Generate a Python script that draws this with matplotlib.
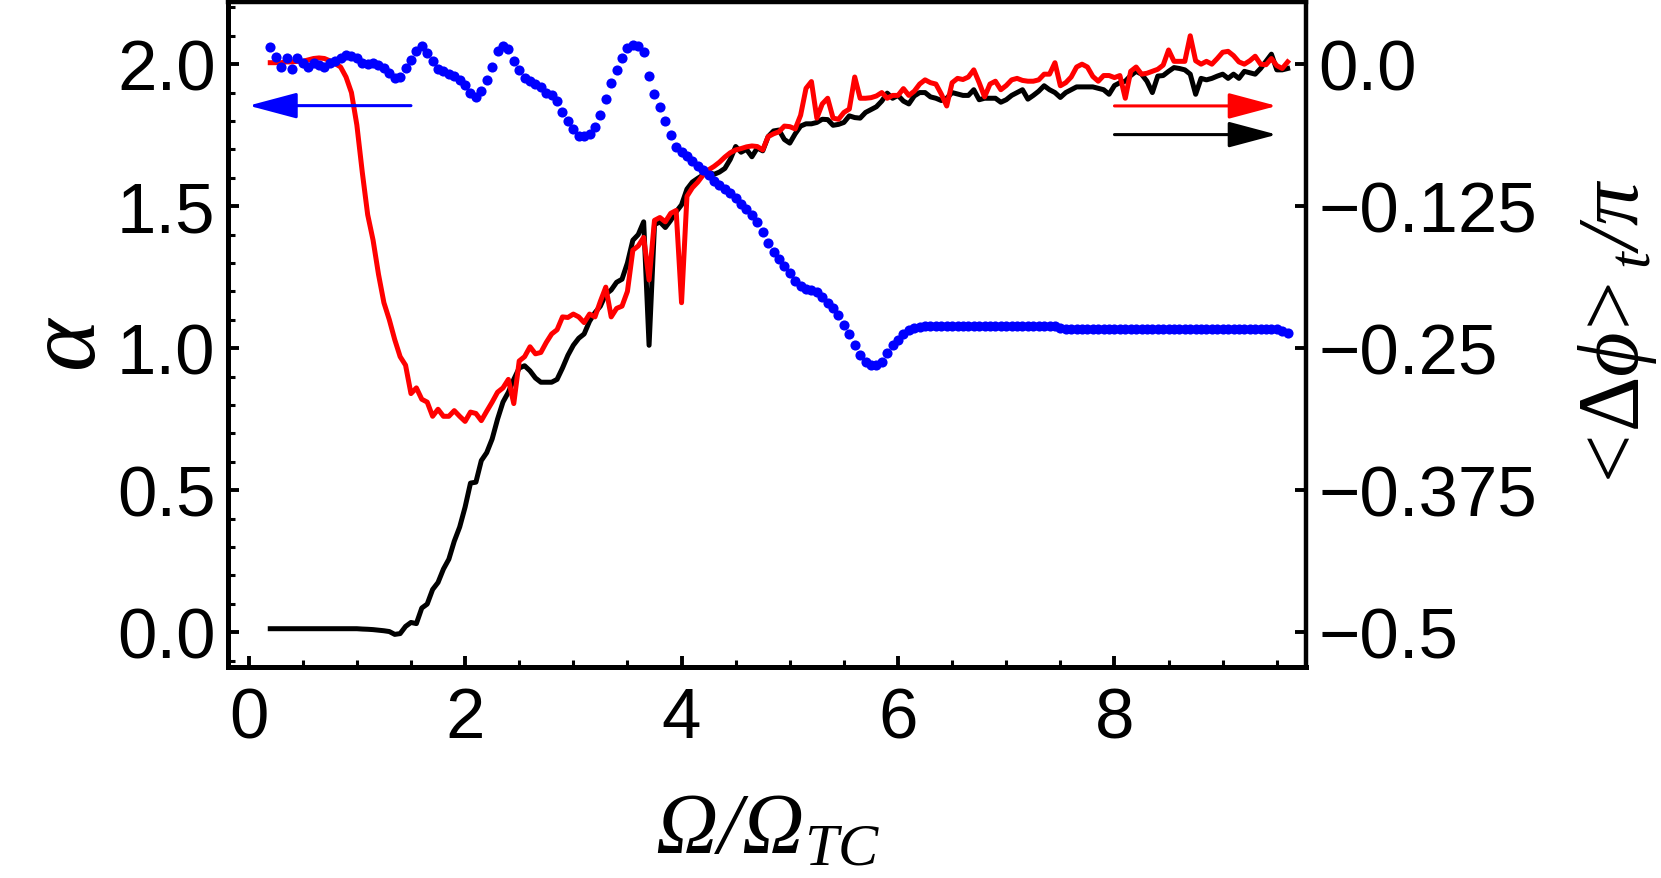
import numpy as np
import matplotlib
matplotlib.use('Agg')
import matplotlib.pyplot as plt
from matplotlib.ticker import MultipleLocator, FormatStrFormatter

plt.rcParams['font.family'] = 'Liberation Sans'
# serif italic maths (Greek capitals go to "rm", so rm is italic too);
# \mathsf is used for the few upright glyphs
plt.rcParams['mathtext.fontset'] = 'custom'
plt.rcParams['mathtext.rm'] = 'Liberation Serif:italic'
plt.rcParams['mathtext.it'] = 'Liberation Serif:italic'
plt.rcParams['mathtext.sf'] = 'Liberation Serif'

# -------------------- data --------------------
# samples every 0.05 in Omega/Omega_TC, starting at 0.2
omega_start = 0.2
omega_step = 0.05

# alpha (left axis, blue dots)
alpha_blue = [
    2.062, 2.025, 1.990, 2.020, 1.982, 2.020, 2.005, 1.990, 2.003, 1.998,
    1.990, 2.003, 2.012, 2.020, 2.034, 2.030, 2.020, 2.003, 2.000, 2.003,
    1.997, 1.988, 1.970, 1.950, 1.955, 1.985, 2.015, 2.048, 2.065, 2.040,
    2.010, 1.983, 1.975, 1.967, 1.960, 1.945, 1.925, 1.898, 1.885, 1.905,
    1.945, 1.990, 2.045, 2.065, 2.055, 2.010, 1.980, 1.950, 1.940, 1.930,
    1.918, 1.900, 1.893, 1.870, 1.830, 1.800, 1.772, 1.748, 1.748, 1.755,
    1.778, 1.820, 1.878, 1.935, 1.980, 2.020, 2.058, 2.066, 2.063, 2.042,
    1.960, 1.895, 1.850, 1.800, 1.750, 1.710, 1.690, 1.675, 1.660, 1.643,
    1.627, 1.608, 1.590, 1.575, 1.562, 1.545, 1.530, 1.508, 1.490, 1.470,
    1.445, 1.410, 1.370, 1.340, 1.315, 1.288, 1.265, 1.238, 1.220, 1.210,
    1.205, 1.196, 1.180, 1.160, 1.140, 1.118, 1.080, 1.050, 1.010, 0.975,
    0.950, 0.940, 0.942, 0.952, 0.982, 1.010, 1.030, 1.050, 1.065, 1.072,
    1.076, 1.078, 1.077, 1.077, 1.077, 1.077, 1.077, 1.077, 1.077, 1.077,
    1.077, 1.077, 1.077, 1.077, 1.077, 1.077, 1.077, 1.077, 1.077, 1.077,
    1.077, 1.077, 1.077, 1.077, 1.077, 1.077, 1.072, 1.066, 1.066, 1.066,
    1.066, 1.066, 1.066, 1.066, 1.066, 1.066, 1.066, 1.066, 1.066, 1.066,
    1.066, 1.066, 1.066, 1.066, 1.066, 1.066, 1.066, 1.066, 1.066, 1.066,
    1.066, 1.066, 1.066, 1.066, 1.066, 1.066, 1.066, 1.066, 1.066, 1.066,
    1.066, 1.066, 1.066, 1.066, 1.066, 1.066, 1.066, 1.062, 1.055,
]

# <dphi>_t / pi (right axis, red line)
phase_red = [
    0.0013, 0.0013, 0.0013, 0.0020, 0.0020, 0.0025, 0.0025, 0.0038, 0.0050, 0.0055,
    0.0050, 0.0030, 0.0005, -0.0025, -0.0113, -0.0250, -0.0535, -0.0950, -0.1325, -0.1550,
    -0.1850, -0.2100, -0.2250, -0.2425, -0.2575, -0.2650, -0.2900, -0.2850, -0.2950, -0.2975,
    -0.3100, -0.3038, -0.3100, -0.3100, -0.3050, -0.3100, -0.3145, -0.3063, -0.3075, -0.3138,
    -0.3055, -0.2975, -0.2888, -0.2850, -0.2775, -0.2988, -0.2613, -0.2575, -0.2488, -0.2550,
    -0.2538, -0.2450, -0.2375, -0.2338, -0.2225, -0.2230, -0.2200, -0.2225, -0.2275, -0.2200,
    -0.2225, -0.2088, -0.1963, -0.2225, -0.2150, -0.2130, -0.2000, -0.1638, -0.1600, -0.1525,
    -0.1900, -0.1375, -0.1350, -0.1388, -0.1313, -0.1288, -0.2100, -0.1163, -0.1088, -0.1038,
    -0.0975, -0.0930, -0.0900, -0.0863, -0.0818, -0.0780, -0.0755, -0.0743, -0.0728, -0.0720,
    -0.0725, -0.0755, -0.0638, -0.0613, -0.0595, -0.0545, -0.0550, -0.0570, -0.0450, -0.0213,
    -0.0153, -0.0475, -0.0350, -0.0300, -0.0475, -0.0485, -0.0425, -0.0395, -0.0113, -0.0300,
    -0.0300, -0.0295, -0.0280, -0.0250, -0.0300, -0.0275, -0.0275, -0.0215, -0.0275, -0.0238,
    -0.0175, -0.0138, -0.0163, -0.0175, -0.0263, -0.0368, -0.0163, -0.0125, -0.0135, -0.0113,
    -0.0050, -0.0163, -0.0288, -0.0175, -0.0150, -0.0225, -0.0188, -0.0138, -0.0125, -0.0143,
    -0.0150, -0.0150, -0.0138, -0.0088, -0.0088, 0.0013, -0.0190, -0.0163, -0.0113, -0.0025,
    0.0000, -0.0025, -0.0108, -0.0150, -0.0100, -0.0100, -0.0118, -0.0100, -0.0300, -0.0063,
    -0.0025, -0.0088, -0.0080, -0.0063, -0.0045, -0.0008, 0.0125, 0.0025, 0.0025, 0.0025,
    0.0250, 0.0030, 0.0000, 0.0025, 0.0000, 0.0050, 0.0105, 0.0113, 0.0075, 0.0020,
    0.0000, 0.0030, 0.0070, 0.0000, -0.0005, 0.0050, -0.0013, -0.0038, 0.0020,
]

# <dphi>_t / pi (right axis, black line)
phase_black = [
    -0.4970, -0.4970, -0.4970, -0.4970, -0.4970, -0.4970, -0.4970, -0.4970, -0.4970, -0.4970,
    -0.4970, -0.4970, -0.4970, -0.4970, -0.4970, -0.4970, -0.4970, -0.4973, -0.4975, -0.4978,
    -0.4983, -0.4988, -0.4995, -0.5020, -0.5013, -0.4950, -0.4915, -0.4925, -0.4788, -0.4753,
    -0.4625, -0.4563, -0.4445, -0.4358, -0.4200, -0.4075, -0.3900, -0.3688, -0.3680, -0.3490,
    -0.3420, -0.3300, -0.3125, -0.2975, -0.2888, -0.2775, -0.2675, -0.2655, -0.2700, -0.2763,
    -0.2800, -0.2800, -0.2800, -0.2775, -0.2675, -0.2563, -0.2475, -0.2413, -0.2375, -0.2263,
    -0.2188, -0.2130, -0.2025, -0.1988, -0.1920, -0.1893, -0.1750, -0.1550, -0.1500, -0.1388,
    -0.2475, -0.1413, -0.1388, -0.1438, -0.1375, -0.1300, -0.1238, -0.1100, -0.1038, -0.1005,
    -0.0975, -0.0950, -0.0970, -0.0950, -0.0918, -0.0838, -0.0725, -0.0775, -0.0750, -0.0815,
    -0.0738, -0.0763, -0.0638, -0.0588, -0.0580, -0.0663, -0.0695, -0.0613, -0.0545, -0.0525,
    -0.0525, -0.0513, -0.0485, -0.0488, -0.0538, -0.0530, -0.0513, -0.0455, -0.0470, -0.0475,
    -0.0425, -0.0400, -0.0375, -0.0325, -0.0255, -0.0300, -0.0275, -0.0325, -0.0350, -0.0280,
    -0.0250, -0.0250, -0.0288, -0.0300, -0.0320, -0.0300, -0.0250, -0.0263, -0.0275, -0.0275,
    -0.0225, -0.0313, -0.0300, -0.0300, -0.0300, -0.0335, -0.0313, -0.0275, -0.0250, -0.0225,
    -0.0308, -0.0275, -0.0238, -0.0190, -0.0225, -0.0250, -0.0293, -0.0250, -0.0225, -0.0200,
    -0.0200, -0.0200, -0.0200, -0.0213, -0.0225, -0.0265, -0.0188, -0.0163, -0.0150, -0.0100,
    -0.0063, -0.0088, -0.0150, -0.0250, -0.0105, -0.0100, -0.0063, -0.0030, -0.0038, -0.0050,
    -0.0088, -0.0265, -0.0125, -0.0138, -0.0125, -0.0105, -0.0088, -0.0125, -0.0088, -0.0125,
    -0.0063, -0.0075, -0.0088, -0.0038, 0.0025, 0.0088, -0.0050, -0.0050, -0.0038,
]

omega = np.round(omega_start + omega_step * np.arange(len(alpha_blue)), 2)

x_ticks = [0, 2, 4, 6, 8]
alpha_ticks = [0.0, 0.5, 1.0, 1.5, 2.0]
phase_ticks = [0.0, -0.125, -0.25, -0.375, -0.5]
phase_tick_labels = ['0.0', '\u22120.125', '\u22120.25', '\u22120.375', '\u22120.5']

# -------------------- plot --------------------
fig = plt.figure(figsize=(16.61, 8.79), dpi=100)
ax = fig.add_axes([0.1373, 0.2400, 0.6490, 0.7566])
ax2 = ax.twinx()

ax2.plot(omega, phase_black, color='black', lw=3.6, zorder=2)
ax2.plot(omega, phase_red, color='red', lw=3.6, zorder=3)
ax.plot(omega, alpha_blue, 'o', color='blue', ms=7.3, mec='none', zorder=4)

# blue dots sit on top of the two lines
ax.set_zorder(ax2.get_zorder() + 1)
ax.patch.set_visible(False)

ax.set_xlim(-0.19, 9.77)
ax.set_ylim(-0.123, 2.219)
ax2.set_ylim((-0.123 - 2.0) / 4.0, (2.219 - 2.0) / 4.0)

# arrows telling which axis each curve belongs to
arrow_style = '-|>,head_length=3.0,head_width=0.8'
ax.annotate('', xy=(0.0, 1.854), xytext=(1.5, 1.854),
            arrowprops=dict(arrowstyle=arrow_style, color='blue', lw=2.2,
                            mutation_scale=10, shrinkA=0, shrinkB=0))
ax.annotate('', xy=(9.5, 1.853), xytext=(8.0, 1.853),
            arrowprops=dict(arrowstyle=arrow_style, color='red', lw=2.2,
                            mutation_scale=10, shrinkA=0, shrinkB=0))
ax.annotate('', xy=(9.5, 1.752), xytext=(8.0, 1.752),
            arrowprops=dict(arrowstyle=arrow_style, color='black', lw=2.2,
                            mutation_scale=10, shrinkA=0, shrinkB=0))

# ticks
ax.set_xticks(x_ticks)
ax.xaxis.set_minor_locator(MultipleLocator(0.5))
ax.set_yticks(alpha_ticks)
ax.yaxis.set_major_formatter(FormatStrFormatter('%.1f'))
ax.yaxis.set_minor_locator(MultipleLocator(0.1))
ax.tick_params(which='both', direction='in', top=False, right=False)
ax.tick_params(which='major', length=8, width=2.8, labelsize=51)
ax.tick_params(axis='y', which='major', pad=9)
ax.tick_params(axis='x', which='major', pad=14)
ax.tick_params(which='minor', length=5, width=2.2)

ax2.set_yticks(phase_ticks)
ax2.set_yticklabels(phase_tick_labels)
ax2.yaxis.set_minor_locator(plt.NullLocator())
ax2.tick_params(axis='y', direction='in', length=8, width=2.8, labelsize=51, pad=9)

# frame
for s in ['left', 'bottom']:
    ax.spines[s].set_linewidth(3.6)
ax.spines['top'].set_linewidth(3.2)
ax.spines['right'].set_visible(False)
for s in ['left', 'top', 'bottom']:
    ax2.spines[s].set_visible(False)
ax2.spines['right'].set_linewidth(3.2)

# axis labels
fig.text(0.041, 0.610, '\u03b1', rotation=90, ha='center', va='center',
         fontsize=72, family='Liberation Serif', style='italic')
fig.text(0.4624, 0.0540, '$\u03a9/\u03a9_{TC}$',
         ha='center', va='center', fontsize=62)
fig.text(0.9740, 0.617,
         '$\\mathsf{<}\\!\\mathsf{\u0394}\u03d5\\!\\mathsf{>}_{t}/\u03c0$',
         rotation=90, ha='center', va='center', fontsize=62)

fig.savefig('out.png', dpi=100)
plt.close(fig)
